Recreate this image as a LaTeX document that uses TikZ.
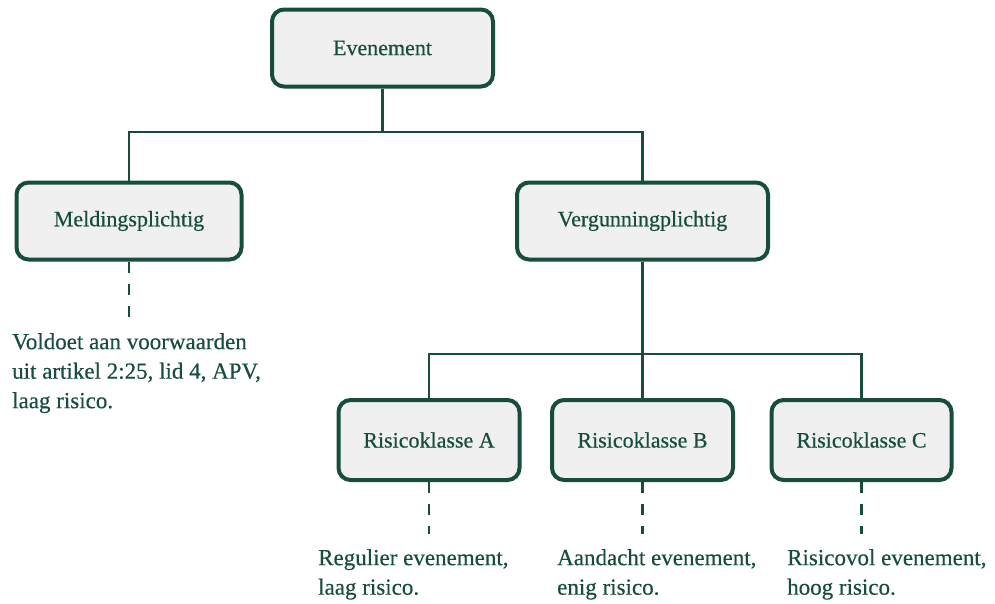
\documentclass[tikz,border=0pt]{standalone}
\usepackage{fontspec}
\setmainfont{Liberation Serif}[UprightFeatures={FakeBold=0.4}]
\usetikzlibrary{positioning}
\definecolor{dkgreen}{RGB}{22,77,62}
\definecolor{boxgray}{RGB}{240,240,240}

\begin{document}
\begin{tikzpicture}[x=1pt, y=-1pt,
	every node/.style={text=dkgreen},
	box/.style={draw=dkgreen, line width=4pt, fill=boxgray, rounded corners=12pt,
		minimum height=77pt, inner sep=0pt, font=\fontsize{22}{26}\selectfont},
	desc/.style={anchor=north west, align=left, inner sep=0pt,
		font=\fontsize{23}{29.5}\selectfont},
	link/.style={draw=dkgreen, line width=2.8pt},
	dashlink/.style={draw=dkgreen, line width=2.8pt, dash pattern=on 11pt off 11pt,
		shorten >=15pt}]
	\useasboundingbox (0,0) rectangle (995,603);

	% Draw the boxes
	\node[box, minimum width=221pt] (even) at (382.5,48) {Evenement};
	\node[box, minimum width=225pt] (meld) at (129,221) {Meldingsplichtig};
	\node[box, minimum width=251pt] (verg) at (642.5,221) {Vergunningplichtig};

	\node[box, minimum width=181pt, minimum height=80pt] (riskA) at (429,440) {Risicoklasse A};
	\node[box, minimum width=181pt, minimum height=80pt] (riskB) at (642.5,440) {Risicoklasse B};
	\node[box, minimum width=180pt, minimum height=80pt] (riskC) at (861.5,440) {Risicoklasse C};

	% Draw the texts under the boxes
	\node[desc] (meldDesc) at (12,333) {Voldoet aan voorwaarden\\uit artikel 2:25, lid 4, APV,\\laag risico.};
	\node[desc] (riskADesc) at (318,549) {Regulier evenement,\\laag risico.};
	\node[desc] (riskBDesc) at (557,549) {Aandacht evenement,\\enig risico.};
	\node[desc] (riskCDesc) at (787,549) {Risicovol evenement,\\hoog risico.};

	% Draw the tree lines
	\draw[link] (even.south) -- ++(0,43.5) -| (meld.north);
	\draw[link] (even.south) -- ++(0,43.5) -| (verg.north);

	\draw[link] (verg.south) -- ++(0,92.5) -| (riskA.north);
	\draw[link] (verg.south) -- (riskB.north);
	\draw[link] (verg.south) -- ++(0,92.5) -| (riskC.north);

	% Draw the dashed lines to the texts
	\draw[dashlink] (meld.south) -- (meld.south |- meldDesc.north);
	\draw[dashlink] (riskA.south) -- (riskA.south |- riskADesc.north);
	\draw[dashlink] (riskB.south) -- (riskB.south |- riskBDesc.north);
	\draw[dashlink] (riskC.south) -- (riskC.south |- riskCDesc.north);

\end{tikzpicture}
\end{document}
